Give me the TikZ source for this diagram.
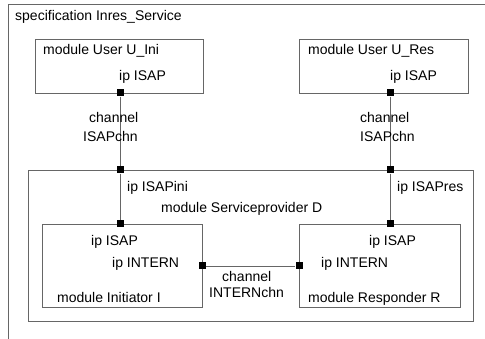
\documentclass[tikz,border=0pt]{standalone}
\usepackage{fontspec}
\setmainfont{Liberation Sans}
\usetikzlibrary{positioning}

\begin{document}
\begin{tikzpicture}[
    x=1pt, y=-1pt,
    every node/.style={font=\fontsize{14}{16}\selectfont},
    frame/.style={draw=black!60, line width=0.8pt},
    modbox/.style={rectangle, draw=black!60, line width=0.8pt, inner sep=0pt},
    lbl/.style={anchor=base west, inner sep=0pt},
    port/.style={rectangle, fill=black, minimum size=7pt, inner sep=0pt},
    chan/.style={draw=black!60, line width=0.8pt}
]
\useasboundingbox (0,0) rectangle (485,339);
\clip (0,0) rectangle (485,339);

% Specification frame
\draw[frame] (8,345) |- (492,4);
\node[lbl] (speclbl) at (15,21) {specification Inres\_Service};

% User modules
\node[modbox, minimum width=168pt, minimum height=54pt] (uini) at (119,66) {};
\node[lbl] (uinilbl) at (43,55) {module User U\_Ini};
\node[lbl] (uiniip) at (119,81) {ip ISAP};
\node[modbox, minimum width=169pt, minimum height=54pt] (ures) at (383.5,66) {};
\node[lbl] (ureslbl) at (308,55) {module User U\_Res};
\node[lbl] (uresip) at (390,81) {ip ISAP};

% Serviceprovider
\node[modbox, minimum width=445pt, minimum height=151pt] (sp) at (250.5,245.5) {};
\node[lbl] (splbl) at (161,213) {module Serviceprovider D};
\node[lbl] (spini) at (127,192) {ip ISAPini};
\node[lbl] (spres) at (397,192) {ip ISAPres};

% Initiator and Responder
\node[modbox, minimum width=160pt, minimum height=83pt] (init) at (122,265.5) {};
\node[lbl] (initip) at (91,246) {ip ISAP};
\node[lbl] (initin) at (112,268) {ip INTERN};
\node[lbl] (initlbl) at (57,302) {module Initiator I};
\node[modbox, minimum width=161pt, minimum height=83pt] (resp) at (379.5,265.5) {};
\node[lbl] (respip) at (369,246) {ip ISAP};
\node[lbl] (respin) at (321,268) {ip INTERN};
\node[lbl] (resplbl) at (308,302) {module Responder R};

% Ports
\node[port] (uiniport) at (120,93) {};
\node[port] (uresport) at (390,93) {};
\node[port] (spiniport) at (120,170) {};
\node[port] (spresport) at (390,170) {};
\node[port] (initisap) at (120,224) {};
\node[port] (initintern) at (202,266) {};
\node[port] (respisap) at (390,224) {};
\node[port] (respintern) at (299,266) {};

% Channels
\draw[chan] (uiniport) -- (spiniport);
\draw[chan] (uresport) -- (spresport);
\draw[chan] (spiniport) -- (initisap);
\draw[chan] (spresport) -- (respisap);
\draw[chan] (initintern) -- (respintern);
\node[lbl] (chanini) at (89,123) {channel};
\node[lbl] (chaninib) at (83,142) {ISAPchn};
\node[lbl] (chanres) at (360,123) {channel};
\node[lbl] (chanresb) at (360,142) {ISAPchn};
\node[lbl] (chanint) at (222,282) {channel};
\node[lbl] (chanintb) at (209,298) {INTERNchn};

\end{tikzpicture}
\end{document}
